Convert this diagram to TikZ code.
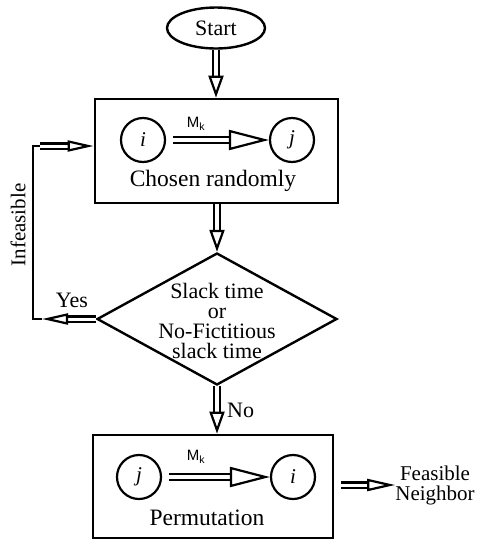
\documentclass[tikz,border=0pt]{standalone}
\usepackage{fontspec}
\setmainfont{Liberation Serif}
\newfontfamily\sansf{Liberation Sans}
\usetikzlibrary{shapes.geometric,arrows.meta}
\begin{document}
\begin{tikzpicture}[x=1pt,y=-1pt,
  box/.style={draw, line width=2.8pt, rectangle, inner sep=0pt},
  circ/.style={draw, line width=2.2pt, circle, minimum size=44pt, inner sep=0pt, font=\fontsize{21}{21}\selectfont\itshape},
  lbl/.style={font=\fontsize{22}{20}\selectfont, inner sep=0pt},
  big/.style={font=\fontsize{23.5}{20}\selectfont, inner sep=0pt},
  mk/.style={font=\sansf\fontsize{15}{15}\selectfont, inner sep=0pt},
  fatbase/.style={double, line width=2.2pt, double distance=3.2pt},
  fatv/.style={fatbase, -{Triangle[open, length=22pt, width=15pt, line width=2.2pt]}},
  fath/.style={fatbase, double distance=4pt, -{Triangle[open, length=40pt, width=20pt, line width=2.2pt]}},
  fatf/.style={fatbase, double distance=3pt, -{Triangle[open, length=28pt, width=12pt, line width=2.2pt]}},
  fatl/.style={fatbase, double distance=3pt, -{Triangle[open, length=26pt, width=11pt, line width=2.2pt]}},
  loopline/.style={line width=2.8pt}
]
\useasboundingbox (0,0) rectangle (488,550);

\node[draw, ellipse, line width=2.4pt, minimum width=98pt, minimum height=41pt, lbl] (start) at (216,28) {Start};

\node[box, minimum width=243pt, minimum height=104pt] (b1) at (216.5,151) {};
\node[circ] (i1) at (143,140) {i};
\node[circ] (j1) at (292,140) {j};
\draw[fath, shorten <=7pt] (i1) -- (j1);
\node[mk] (m1) at (196,124) {M\textsubscript{k}};
\node[big] (c1) at (213,181) {Chosen randomly};

\node[draw, diamond, line width=2.4pt, minimum width=240pt, minimum height=132pt, inner sep=0pt] (d) at (217,319) {};
\node[lbl, align=center] (dt) at (217,321) {Slack time\\or\\No-Fictitious\\slack time};

\node[box, minimum width=240pt, minimum height=103pt] (b2) at (213,486.5) {};
\node[circ] (j2) at (139,477) {j};
\node[circ] (i2) at (293,477) {i};
\draw[fath, shorten <=7pt] (j2) -- (i2);
\node[mk] (m2) at (196,457) {M\textsubscript{k}};
\node[big] (p2) at (207,518) {Permutation};

\node[lbl, align=center, font=\fontsize{21}{20}\selectfont] (fn) at (435,485) {Feasible\\Neighbor};

\draw[fatv] (start.south) -- (start.south |- b1.north);
\draw[fatv] (b1.south -| d.north) -- (d.north);
\draw[fatv] (d.south) -- (d.south |- b2.north);
\node[lbl, anchor=west] (no) at (227,410) {No};

\draw[fatf, shorten <=7pt] (b2.east |- fn.west) -- (fn.west);

\coordinate (yl) at (33,319);
\coordinate (yt) at (33,146);
\coordinate (a1) at (42,319);
\coordinate (a2) at (40,146);
\draw[fatl] (d.west) -- (a1);
\draw[loopline] (a1) -- (yl) -- (yt) -- (a2);
\draw[fatl] (a2) -- (b1.west |- a2);
\node[lbl] (yes) at (72,300) {Yes};
\node[lbl, rotate=90, font=\fontsize{21}{20}\selectfont] (inf) at (18,225) {Infeasible};
\end{tikzpicture}
\end{document}
